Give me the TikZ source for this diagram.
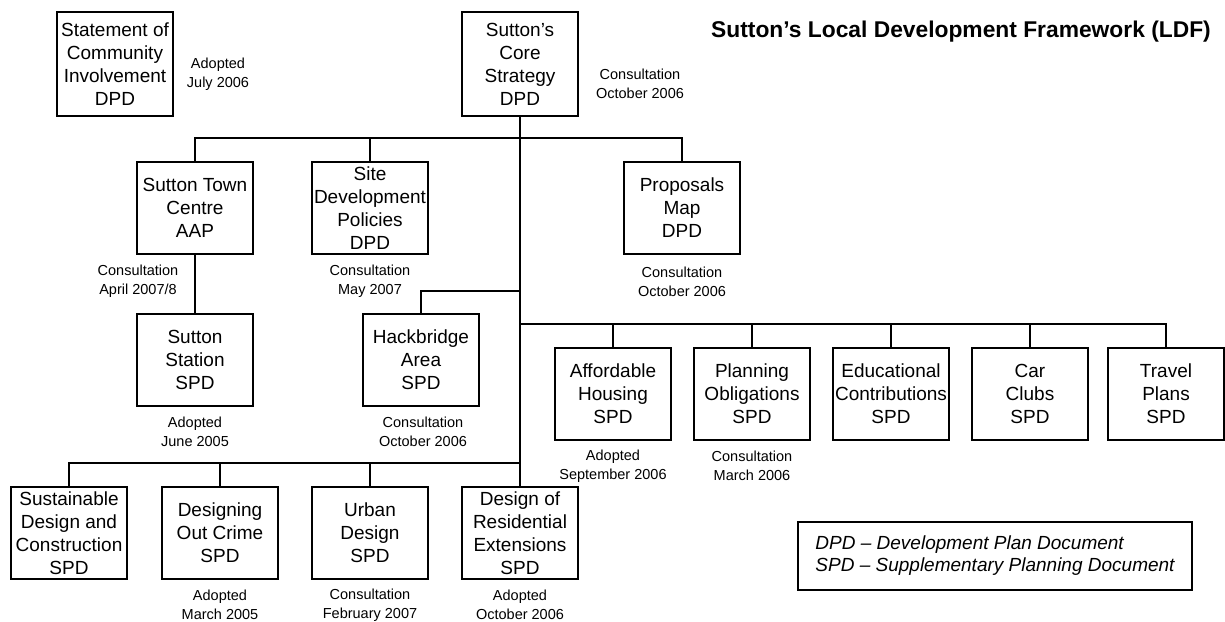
\documentclass[tikz,border=0pt]{standalone}
\usepackage{fontspec}
\setmainfont{Liberation Sans}
\usetikzlibrary{positioning}
\tikzstyle{docbox} = [rectangle, minimum width=116pt, minimum height=92pt, inner sep=0pt, align=center, draw=black, line width=1.5pt, font=\fontsize{19}{23}\selectfont]
\tikzstyle{doctall} = [docbox, minimum height=104pt]
\tikzstyle{status} = [align=center, inner sep=0pt, font=\fontsize{14.5}{18.5}\selectfont]
\tikzstyle{legend} = [rectangle, draw=black, line width=1.3pt, minimum width=394pt, minimum height=68pt, inner xsep=17pt, align=left, font=\itshape\fontsize{19}{22}\selectfont]
\tikzstyle{link} = [line width=1.6pt]

\begin{document}
\begin{tikzpicture}[x=1pt, y=-1pt]
    \useasboundingbox (0,0) rectangle (1225,621);

    \node(Title)[font=\bfseries\fontsize{22.8}{27}\selectfont] at (961,32) {Sutton’s Local Development Framework (LDF)};

    % top level
    \node(Statement)[doctall] at (115,64) {Statement of\\Community\\Involvement\\DPD};
    \node(StatementDate)[status] at (218,74) {Adopted\\July 2006};

    \node(Core)[doctall] at (520,64) {Sutton’s\\Core\\Strategy\\DPD};
    \node(CoreDate)[status] at (640,84) {Consultation\\October 2006};

    % second level
    \node(TownCentre)[docbox] at (195,208) {Sutton Town\\Centre\\AAP};
    \node(TownCentreDate)[status] at (138,281) {Consultation\\April 2007/8};

    \node(SiteDev)[docbox] at (370,208) {Site\\Development\\Policies\\DPD};
    \node(SiteDevDate)[status] at (370,281) {Consultation\\May 2007};

    \node(Proposals)[docbox] at (682,208) {Proposals\\Map\\DPD};
    \node(ProposalsDate)[status] at (682,282) {Consultation\\October 2006};

    \node(Station)[docbox] at (195,360) {Sutton\\Station\\SPD};
    \node(StationDate)[status] at (195,432) {Adopted\\June 2005};

    \node(Hackbridge)[docbox] at (421,360) {Hackbridge\\Area\\SPD};
    \node(HackbridgeDate)[status] at (423,432) {Consultation\\October 2006};

    % right row
    \node(Affordable)[docbox] at (613,394) {Affordable\\Housing\\SPD};
    \node(AffordableDate)[status] at (613,466) {Adopted\\September 2006};

    \node(Planning)[docbox] at (752,394) {Planning\\Obligations\\SPD};
    \node(PlanningDate)[status] at (752,466) {Consultation\\March 2006};

    \node(Educational)[docbox] at (891,394) {Educational\\Contributions\\SPD};
    \node(CarClubs)[docbox] at (1030,394) {Car\\Clubs\\SPD};
    \node(Travel)[docbox] at (1166,394) {Travel\\Plans\\SPD};

    % bottom row
    \node(Sustainable)[docbox] at (69,533) {Sustainable\\Design and\\Construction\\SPD};

    \node(Designing)[docbox] at (220,533) {Designing\\Out Crime\\SPD};
    \node(DesigningDate)[status] at (220,605) {Adopted\\March 2005};

    \node(Urban)[docbox] at (370,533) {Urban\\Design\\SPD};
    \node(UrbanDate)[status] at (370,605) {Consultation\\February 2007};

    \node(Residential)[docbox] at (520,533) {Design of\\Residential\\Extensions\\SPD};
    \node(ResidentialDate)[status] at (520,605) {Adopted\\October 2006};

    \node(Key)[legend] at (995,556) {DPD -- Development Plan Document\\SPD -- Supplementary Planning Document};

    % connectors
    \coordinate(TopBus) at (520,138);
    \coordinate(HackBus) at (520,291);
    \coordinate(RightBus) at (520,324);
    \coordinate(BottomBus) at (520,463);

    \draw[link] (Core.south) -- (Residential.north);
    \draw[link] (TownCentre.north) |- (TopBus) -| (Proposals.north);
    \draw[link] (SiteDev.north) -- (SiteDev.north |- TopBus);
    \draw[link] (TownCentre.south) -- (Station.north);
    \draw[link] (HackBus) -| (Hackbridge.north);

    \draw[link] (RightBus) -| (Travel.north);
    \draw[link] (Affordable.north) -- (Affordable.north |- RightBus);
    \draw[link] (Planning.north) -- (Planning.north |- RightBus);
    \draw[link] (Educational.north) -- (Educational.north |- RightBus);
    \draw[link] (CarClubs.north) -- (CarClubs.north |- RightBus);

    \draw[link] (BottomBus) -| (Sustainable.north);
    \draw[link] (Designing.north) -- (Designing.north |- BottomBus);
    \draw[link] (Urban.north) -- (Urban.north |- BottomBus);
\end{tikzpicture}
\end{document}
